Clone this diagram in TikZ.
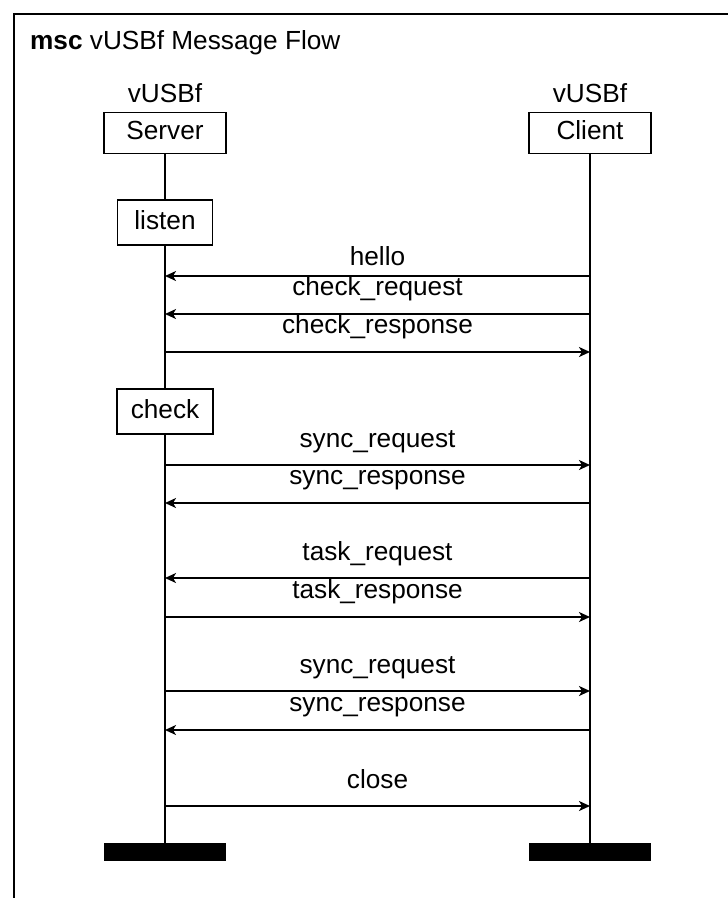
\documentclass[tikz,border=0pt]{standalone}
\usepackage{fontspec}
\setmainfont{Liberation Sans}
\usetikzlibrary{arrows.meta}
\tikzset{
  txt/.style={font=\fontsize{26.2}{31}\selectfont, inner sep=0pt},
  obj/.style={draw, line width=1.6pt, font=\fontsize{26.2}{31}\selectfont, inner sep=0pt, text height=18pt, text depth=5pt},
  endbar/.style={fill=black, draw=none, minimum width=122pt, minimum height=18pt, inner sep=0pt},
  life/.style={line width=2.4pt},
  msg/.style={line width=1.7pt, -{Stealth[length=11pt,width=10pt,inset=3pt]}},
  lbl/.style={txt, anchor=base}
}
\begin{document}
\begin{tikzpicture}[x=1pt,y=-1pt]
\useasboundingbox (0,0) rectangle (728,898);
% frame
\draw[line width=2pt] (14,898) -- (14,14) -- (728,14);
\node[txt, anchor=base west] (title) at (30,49) {\textbf{msc} vUSBf Message Flow};
% instance heads
\node[lbl] (sv) at (165,102) {vUSBf};
\node[lbl] (cv) at (590,102) {vUSBf};
\node[obj, minimum width=122pt, minimum height=41pt] (server) at (165,133) {Server};
\node[obj, minimum width=122pt, minimum height=41pt] (client) at (590,133) {Client};
% end bars
\node[endbar] (send) at (165,852) {};
\node[endbar] (cend) at (590,852) {};
% lifelines
\draw[life] (server.south) -- (send.north);
\draw[life] (client.south) -- (cend.north);
% actions
\node[obj, fill=white, minimum width=95pt, minimum height=45pt] (listen) at (165,222.5) {listen};
\node[obj, fill=white, minimum width=96pt, minimum height=45pt] (check) at (165,411.5) {check};
% message end points
\foreach \n/\y in {1/276,2/314,3/352,4/465,5/503,6/578,7/617,8/691,9/730,10/806}{
  \coordinate (s\n) at (165,\y);
  \coordinate (c\n) at (590,\y);
}
% messages
\draw[msg] (c1) -- (s1);
\node[lbl] (l1) at (377.5,265) {hello};
\draw[msg] (c2) -- (s2);
\node[lbl] (l2) at (377.5,295.5) {check\_request};
\draw[msg] (s3) -- (c3);
\node[lbl] (l3) at (377.5,333) {check\_response};
\draw[msg] (s4) -- (c4);
\node[lbl] (l4) at (377.5,447) {sync\_request};
\draw[msg] (c5) -- (s5);
\node[lbl] (l5) at (377.5,484.5) {sync\_response};
\draw[msg] (c6) -- (s6);
\node[lbl] (l6) at (377.5,560) {task\_request};
\draw[msg] (s7) -- (c7);
\node[lbl] (l7) at (377.5,598.5) {task\_response};
\draw[msg] (s8) -- (c8);
\node[lbl] (l8) at (377.5,673) {sync\_request};
\draw[msg] (c9) -- (s9);
\node[lbl] (l9) at (377.5,711.5) {sync\_response};
\draw[msg] (s10) -- (c10);
\node[lbl] (l10) at (377.5,788) {close};
\end{tikzpicture}
\end{document}
